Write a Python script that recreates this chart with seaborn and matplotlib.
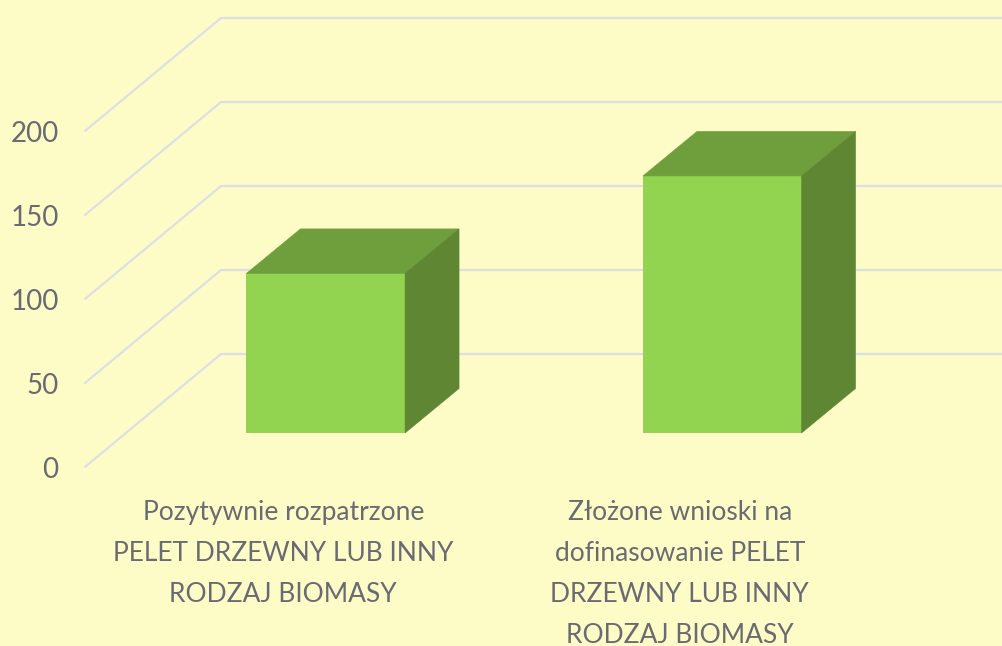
import matplotlib
matplotlib.use("Agg")
import matplotlib.pyplot as plt
import seaborn as sns
from matplotlib.lines import Line2D
from matplotlib.patches import Polygon
from matplotlib.transforms import IdentityTransform

categories = [
    "Pozytywnie rozpatrzone\nPELET DRZEWNY LUB INNY\nRODZAJ BIOMASY",
    "Złożone wnioski na\ndofinasowanie PELET\nDRZEWNY LUB INNY\nRODZAJ BIOMASY",
]
values = [95, 153]
y_ticks = [0, 50, 100, 150, 200]

W, H = 1003, 646
BG = "#FEFCC6"
TEXT = "#6A6A72"
GRID = "#DEDEE6"
FRONT = "#92D350"
TOP = "#6F9E3C"
SIDE = "#5F8632"

sns.set_style("white")
plt.rcParams["font.family"] = ["Lato", "DejaVu Sans"]

fig = plt.figure(figsize=(W / 100, H / 100), dpi=100, facecolor=BG)


# all three planes share one scale, only their origin in pixels differs
def plane(x0, y0):
    ax = fig.add_axes([x0 / W, 1 - y0 / H, 793 / W, 336 / H])
    ax.patch.set_alpha(0)
    sns.despine(ax=ax, left=True, bottom=True)
    return ax


ax_back = plane(221, 354)
ax_bar = plane(127.5, 433)
ax_front = plane(85, 467)

sns.barplot(x=categories, y=values, color=FRONT, saturation=1, width=0.4, ax=ax_bar,
            edgecolor="none", linewidth=0)

for ax in (ax_back, ax_bar, ax_front):
    ax.set_xlim(-0.5, 1.5)
    ax.set_ylim(0, 200)
    ax.grid(False)
    ax.set_xlabel("")
    ax.set_ylabel("")
ax_back.set_xticks([])
ax_back.set_yticks([])
ax_bar.set_xticks([])
ax_bar.set_yticks([])
ax_front.set_xticks(range(len(categories)))
ax_front.set_xticklabels(categories, linespacing=1.8)
ax_front.set_yticks(y_ticks)
ax_front.tick_params(axis="x", length=0, pad=23.5, labelsize=19, labelcolor=TEXT)
ax_front.tick_params(axis="y", length=0, pad=19, labelsize=20, labelcolor=TEXT)

# gridlines: floor-to-wall diagonal, then along the back wall
for t in y_ticks:
    x0, y0 = ax_front.transData.transform((-0.5, t))
    x1, y1 = ax_back.transData.transform((-0.5, t))
    x2 = W
    ax_back.add_line(Line2D([x0, x1, x2], [y0, y1, y1], color=GRID, lw=1.6,
                            transform=IdentityTransform(), clip_on=False, zorder=1))

# depth faces taken from the bars that seaborn drew
dx, dy = 54, 44.5
for bar in ax_bar.patches:
    (xa, ya), (xb, yb) = ax_bar.transData.transform(
        [(bar.get_x(), 0), (bar.get_x() + bar.get_width(), bar.get_height())])
    top = [(xa, yb), (xb, yb), (xb + dx, yb + dy), (xa + dx, yb + dy)]
    side = [(xb, ya), (xb + dx, ya + dy), (xb + dx, yb + dy), (xb, yb)]
    for pts, col in ((top, TOP), (side, SIDE)):
        ax_bar.add_patch(Polygon(pts, closed=True, facecolor=col, edgecolor=col, lw=0.4,
                                 transform=IdentityTransform(), clip_on=False))

fig.savefig("out.png", dpi=100, facecolor=BG)
